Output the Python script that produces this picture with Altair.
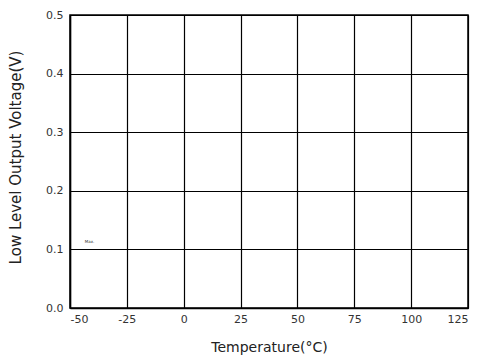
import altair as alt
import pandas as pd

x_ticks = [-50, -25, 0, 25, 50, 75, 100, 125]
y_ticks = [0.0, 0.1, 0.2, 0.3, 0.4, 0.5]
label_text = ["Max."]
label_x = [-43.5]
label_y = [0.113]

df = pd.DataFrame({"t": label_x, "v": label_y, "label": label_text})

chart = alt.Chart(df).mark_text(
    align="left", baseline="middle", fontSize=4, font="DejaVu Sans", color="#333"
).encode(
    x=alt.X("t:Q", scale=alt.Scale(domain=[-50, 125], nice=False),
            axis=alt.Axis(values=x_ticks, title="Temperature(°C)",
                          labelExpr="toString(datum.value)")),
    y=alt.Y("v:Q", scale=alt.Scale(domain=[0, 0.5], nice=False),
            axis=alt.Axis(values=y_ticks, title="Low Level Output Voltage(V)", format=".1f",
                          titleFontSize=15, titleY=142)),
    text="label:N",
).properties(
    width=398, height=293,
    autosize=alt.AutoSizeParams(type="none"),
    padding={"left": 62, "top": 7, "right": 6, "bottom": 49},
).configure_view(
    stroke="black", strokeWidth=1.5
).configure_axis(
    grid=True, gridColor="black", gridOpacity=1, gridWidth=1.2,
    domainColor="black", domainWidth=1.5, ticks=False,
    labelFont="DejaVu Sans", labelFontSize=11, labelColor="#333",
    titleFont="DejaVu Sans", titleFontSize=14, titleFontWeight="normal", titleColor="#222",
).configure_axisX(
    labelPadding=5, titlePadding=16
).configure_axisY(
    labelPadding=7, titlePadding=22
)

chart.save("out.html", embed_options={"renderer": "svg", "actions": False})
